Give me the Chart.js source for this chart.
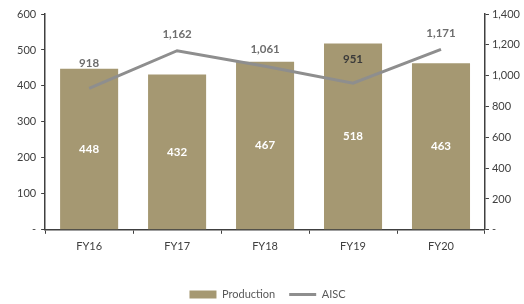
<!DOCTYPE html>
<html>
<head>
<meta charset="utf-8">
<script src="https://cdn.jsdelivr.net/npm/chart.js@4.4.0/dist/chart.umd.min.js"></script>
<style>
  html, body { margin: 0; padding: 0; background: #fff; }
  canvas { display: block; }
</style>
</head>
<body>
<canvas id="chart" width="524" height="304"></canvas>
<script>
"use strict";

const years = ["FY16", "FY17", "FY18", "FY19", "FY20"];
const production = [448, 432, 467, 518, 463];
const aisc = [918, 1162, 1061, 951, 1171];

const leftTicks = [0, 100, 200, 300, 400, 500, 600];
const rightTicks = [0, 200, 400, 600, 800, 1000, 1200, 1400];

// how far above each AISC point its label sits (px)
const aiscLabelLift = [25, 16, 17, 24, 16];

const barColor = "#a59872";
const lineColor = "#8e8e8e";
const fontFamily = "Lato, 'Open Sans', sans-serif";

function fmt(v) {
    return v === 0 ? "-" : v.toLocaleString("en-US");
}

const valueLabels = {
    id: "valueLabels",
    afterDatasetsDraw(chart) {
        const ctx = chart.ctx;
        ctx.save();
        ctx.textAlign = "center";
        ctx.textBaseline = "middle";
        ctx.font = "bold 11.5px " + fontFamily;

        const barMeta = chart.getDatasetMeta(0);
        barMeta.data.forEach((bar, i) => {
            ctx.fillStyle = "#ffffff";
            ctx.fillText(fmt(production[i]), bar.x, (bar.y + bar.base) / 2);
        });

        const lineMeta = chart.getDatasetMeta(1);
        lineMeta.data.forEach((pt, i) => {
            const y = pt.y - aiscLabelLift[i];
            const insideBar = y > barMeta.data[i].y;
            ctx.fillStyle = insideBar ? "#3a3a3a" : "#6e6e6e";
            ctx.fillText(fmt(aisc[i]), pt.x, y);
        });
        ctx.restore();
    }
};

new Chart(document.getElementById("chart"), {
    type: "bar",
    data: {
        labels: years,
        datasets: [{
            type: "bar",
            label: "Production",
            data: production,
            backgroundColor: barColor,
            borderWidth: 0,
            categoryPercentage: 1,
            barPercentage: 0.66,
            yAxisID: "y",
            order: 1
        }, {
            type: "line",
            label: "AISC",
            data: aisc,
            borderColor: lineColor,
            backgroundColor: lineColor,
            borderWidth: 3,
            pointRadius: 0,
            tension: 0,
            yAxisID: "y1",
            order: 0
        }]
    },
    options: {
        responsive: false,
        animation: false,
        layout: {
            padding: { left: 12, right: 1, top: 14, bottom: -6 }
        },
        scales: {
            x: {
                grid: {
                    drawOnChartArea: false,
                    drawTicks: true,
                    tickLength: 4,
                    color: "#404040"
                },
                border: { color: "#404040", width: 1.5 },
                ticks: {
                    color: "#404040",
                    font: { family: fontFamily, size: 11 },
                    padding: 6
                },
                afterFit(axis) {
                    axis.height += 16;
                }
            },
            y: {
                position: "left",
                min: 0,
                max: 600,
                afterBuildTicks(axis) {
                    axis.ticks = leftTicks.map(v => ({ value: v }));
                },
                grid: {
                    drawOnChartArea: false,
                    tickLength: 4,
                    color: "#404040"
                },
                border: { color: "#404040", width: 1.5 },
                ticks: {
                    color: "#404040",
                    font: { family: fontFamily, size: 11 },
                    padding: 5,
                    callback: v => fmt(v)
                }
            },
            y1: {
                position: "right",
                min: 0,
                max: 1400,
                afterBuildTicks(axis) {
                    axis.ticks = rightTicks.map(v => ({ value: v }));
                },
                grid: {
                    drawOnChartArea: false,
                    tickLength: 4,
                    color: "#404040"
                },
                border: { color: "#404040", width: 1.5 },
                ticks: {
                    color: "#404040",
                    font: { family: fontFamily, size: 11 },
                    padding: 3,
                    callback: v => fmt(v)
                }
            }
        },
        plugins: {
            tooltip: { enabled: false },
            legend: {
                position: "bottom",
                labels: {
                    usePointStyle: true,
                    pointStyleWidth: 27,
                    boxHeight: 8,
                    padding: 14,
                    color: "#595959",
                    font: { family: fontFamily, size: 11 },
                    generateLabels(chart) {
                        const items = Chart.defaults.plugins.legend.labels.generateLabels(chart);
                        items.sort((a, b) => a.datasetIndex - b.datasetIndex);
                        items.forEach(it => {
                            it.pointStyle = it.datasetIndex === 0 ? "rect" : "line";
                            if (it.datasetIndex === 0) it.lineWidth = 0;
                        });
                        return items;
                    }
                }
            }
        }
    },
    plugins: [valueLabels]
});
</script>
</body>
</html>
